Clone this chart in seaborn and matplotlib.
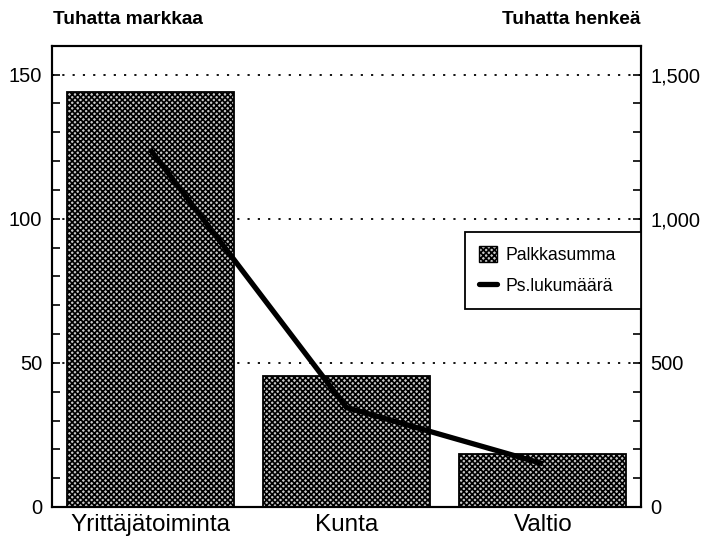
import matplotlib
matplotlib.use("Agg")
import matplotlib.pyplot as plt
import seaborn as sns
import pandas as pd
from matplotlib.ticker import MultipleLocator, FuncFormatter
from matplotlib.lines import Line2D
from matplotlib.patches import Patch

categories = ["Yrittäjätoiminta", "Kunta", "Valtio"]
palkkasumma = [144.0, 45.3, 18.5]        # Tuhatta markkaa
lukumaara = [1240, 345, 150]             # Tuhatta henkeä
left_title = "Tuhatta markkaa"
right_title = "Tuhatta henkeä"
bar_label = "Palkkasumma"
line_label = "Ps.lukumäärä"

sns.set_theme(style="white")
plt.rcParams["font.family"] = ["Liberation Sans", "DejaVu Sans"]
plt.rcParams["hatch.linewidth"] = 1.2
plt.rcParams["text.color"] = "black"

df = pd.DataFrame({"kat": categories, "palkka": palkkasumma, "luku": lukumaara})

fig = plt.figure(figsize=(7.05, 5.38), dpi=100)
ax = fig.add_axes([52/705, 1-507/538, (641-52)/705, (507-45.7)/538])

sns.barplot(data=df, x="kat", y="palkka", ax=ax, color="#c8c8c8",
            edgecolor="black", linewidth=1.3, width=0.85, saturation=1)
for p in ax.patches:
    p.set_hatch("xxxxxx")
    p.set_zorder(2)

ax.set_ylim(0, 160)
ax.set_xlim(-0.5, 2.5)
ax.yaxis.set_major_locator(MultipleLocator(50))
ax.yaxis.set_minor_locator(MultipleLocator(10))
ax.set_xlabel("")
ax.set_ylabel("")
for y in [50, 100, 150]:
    ax.axhline(y, color="black", linestyle=(0, (1.2, 4.5)), linewidth=1.3, zorder=1)

ax2 = ax.twinx()
sns.lineplot(x=[0, 1, 2], y=df["luku"], ax=ax2, color="black", linewidth=3.8,
             solid_capstyle="butt", zorder=5)
ax2.set_ylim(0, 1600)
ax2.yaxis.set_major_locator(MultipleLocator(500))
ax2.yaxis.set_minor_locator(MultipleLocator(100))
ax2.yaxis.set_major_formatter(FuncFormatter(lambda v, p: f"{int(v):,}"))
ax2.set_ylabel("")
ax2.set_xlim(-0.5, 2.5)

for a in (ax, ax2):
    for s in a.spines.values():
        s.set_color("black")
        s.set_linewidth(1.5)

ax.tick_params(axis="y", which="both", direction="in", length=6, width=1.2,
               color="black", labelsize=14.5, pad=7, left=True, labelcolor="black")
ax.tick_params(axis="x", which="both", length=0, labelsize=17.5, pad=5, labelcolor="black")
ax2.tick_params(axis="y", which="both", direction="in", length=6, width=1.2,
                color="black", labelsize=14.5, pad=7, right=True, labelcolor="black")

fig.text(53/705, 1-20/538, left_title, fontsize=13.8, fontweight="bold",
         ha="left", va="center", color="black")
fig.text(641/705, 1-20/538, right_title, fontsize=13.8, fontweight="bold",
         ha="right", va="center", color="black")

handles = [Patch(facecolor="#c8c8c8", edgecolor="black", hatch="xxxxxx", linewidth=1.0),
           Line2D([0], [0], color="black", linewidth=3.8)]
leg = ax2.legend(handles, [bar_label, line_label], loc="upper left",
                 bbox_to_anchor=(0.701, 0.429, 0.299, 0.167), mode="expand",
                 borderaxespad=0, fancybox=False,
                 framealpha=1, edgecolor="black", fontsize=12.7, handlelength=1.0,
                 handleheight=1.0, handletextpad=0.5, labelspacing=0.75,
                 borderpad=0.8)
leg.get_frame().set_linewidth(1.3)

fig.savefig("out.png", dpi=100)
